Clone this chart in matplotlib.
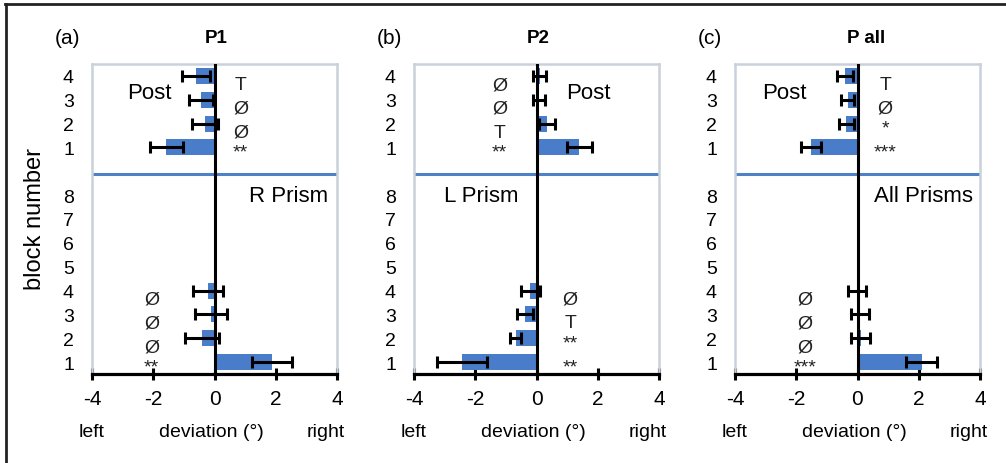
import matplotlib
matplotlib.use("Agg")
import matplotlib.pyplot as plt
from matplotlib.lines import Line2D

plt.rcParams['font.family'] = ['Liberation Sans', 'DejaVu Sans']

# blocks 1..4 for every series
blocks = [1, 2, 3, 4]
panel_letters = ["(a)", "(b)", "(c)"]
panel_titles = ["P1", "P2", "P all"]
prism_names = ["R Prism", "L Prism", "All Prisms"]

# mean deviation (deg) and error, prism phase
prism_p1 = [1.88, -0.40, -0.12, -0.20]
prism_p1_err = [0.64, 0.55, 0.52, 0.49]
prism_p2 = [-2.44, -0.68, -0.38, -0.20]
prism_p2_err = [0.82, 0.19, 0.27, 0.31]
prism_all = [2.10, 0.10, 0.09, -0.02]
prism_all_err = [0.51, 0.31, 0.30, 0.30]

# mean deviation (deg) and error, post phase
post_p1 = [-1.57, -0.30, -0.44, -0.60]
post_p1_err = [0.54, 0.43, 0.38, 0.45]
post_p2 = [1.40, 0.34, 0.08, 0.10]
post_p2_err = [0.42, 0.26, 0.20, 0.22]
post_all = [-1.52, -0.36, -0.32, -0.40]
post_all_err = [0.33, 0.25, 0.22, 0.26]

# significance marks per block
prism_sig_p1 = ["**", "Ø", "Ø", "Ø"]
prism_sig_p2 = ["**", "**", "T", "Ø"]
prism_sig_all = ["***", "Ø", "Ø", "Ø"]
post_sig_p1 = ["**", "Ø", "Ø", "T"]
post_sig_p2 = ["**", "T", "Ø", "Ø"]
post_sig_all = ["***", "*", "Ø", "T"]

y_tick_labels = ["1", "2", "3", "4", "5", "6", "7", "8", "1", "2", "3", "4"]

BLUE = "#4a7dc9"
LINE_BLUE = "#4f81c7"
GRID_GRAY = "#c9d1da"


def sig_label(ax, x, y, s):
    # asterisks sit low in the font, lift them to the row centre
    off = 0.38 if "*" in s else 0.55
    ax.text(x, y - off, s, ha="center", va="baseline", fontsize=14,
            color="#222222", zorder=4)


def draw_panel(ax, letter, title, prism_name, prism, prism_err, prism_sig,
               post, post_err, post_sig, post_sig_x, prism_sig_x,
               post_text_x, prism_text_x):
    # prism blocks sit at 1..8, post blocks at 10..13
    y_prism = blocks
    y_post = [b + 9 for b in blocks]

    ekw = dict(ecolor="black", elinewidth=2.2, capsize=4.5, capthick=2.2)
    ax.barh(y_prism, prism, height=0.67, color=BLUE, xerr=prism_err,
            error_kw=ekw, zorder=2)
    ax.barh(y_post, post, height=0.67, color=BLUE, xerr=post_err,
            error_kw=ekw, zorder=2)

    ax.axvline(0, color="black", lw=2.2, zorder=3)
    ax.axhline(8.9, color=LINE_BLUE, lw=2.2, zorder=1)

    for y, s in zip(y_prism, prism_sig):
        sig_label(ax, prism_sig_x, y, s)
    for y, s in zip(y_post, post_sig):
        sig_label(ax, post_sig_x, y, s)

    ax.text(post_text_x, 12.3, "Post", ha="center", va="center", fontsize=16)
    ax.text(prism_text_x, 8.0, prism_name, ha="center", va="center",
            fontsize=16)

    ax.set_xlim(-4, 4)
    ax.set_ylim(0.5, 13.5)
    ax.set_xticks([-4, -2, 0, 2, 4])
    ax.set_xticklabels(["-4", "-2", "0", "2", "4"], fontsize=15)
    ax.set_yticks(list(range(1, 9)) + y_post)
    ax.set_yticklabels(y_tick_labels, fontsize=14)
    ax.tick_params(axis="y", length=0, pad=13)
    ax.tick_params(axis="x", direction="inout", length=9, width=2.2, pad=6)

    for side in ["left", "top", "right"]:
        ax.spines[side].set_color(GRID_GRAY)
        ax.spines[side].set_linewidth(1.8)
    ax.spines["bottom"].set_linewidth(2.3)
    ax.spines["bottom"].set_color("black")

    tr = ax.get_xaxis_transform()
    ax.text(-4, -0.184, "left", transform=tr, ha="center", va="center",
            fontsize=14)
    ax.text(-0.1, -0.184, "deviation (°)", transform=tr, ha="center",
            va="center", fontsize=14)
    ax.text(3.62, -0.184, "right", transform=tr, ha="center", va="center",
            fontsize=14)

    ax.text(-0.33, 1.084, title, transform=tr, ha="left", va="center",
            fontsize=13.5, fontweight="bold")
    ax.text(-0.151, 1.084, letter, transform=ax.transAxes, ha="left",
            va="center", fontsize=15)


def main():
    fig = plt.figure(figsize=(10.06, 4.64), dpi=100)

    W, H = 1006, 464
    lefts = [92, 414, 735]
    axes = [fig.add_axes([l / W, 1 - 375 / H, 245 / W, 310 / H])
            for l in lefts]

    draw_panel(axes[0], panel_letters[0], panel_titles[0], prism_names[0],
               prism_p1, prism_p1_err, prism_sig_p1,
               post_p1, post_p1_err, post_sig_p1,
               0.85, -2.05, -2.12, 2.42)
    draw_panel(axes[1], panel_letters[1], panel_titles[1], prism_names[1],
               prism_p2, prism_p2_err, prism_sig_p2,
               post_p2, post_p2_err, post_sig_p2,
               -1.2, 1.1, 1.7, -1.8)
    draw_panel(axes[2], panel_letters[2], panel_titles[2], prism_names[2],
               prism_all, prism_all_err, prism_sig_all,
               post_all, post_all_err, post_sig_all,
               0.9, -1.72, -2.4, 2.17)

    fig.text(35 / W, 1 - 219 / H, "block number", rotation=90,
             ha="center", va="center", fontsize=17)

    # frame lines along the top and left edge
    fig.add_artist(Line2D([5 / W, 1.0], [1 - 5 / H, 1 - 5 / H],
                          color="#222222", lw=2, transform=fig.transFigure))
    fig.add_artist(Line2D([6 / W, 6 / W], [0, 1 - 5 / H],
                          color="#222222", lw=2, transform=fig.transFigure))

    fig.savefig("out.png", dpi=100)


if __name__ == "__main__":
    main()
